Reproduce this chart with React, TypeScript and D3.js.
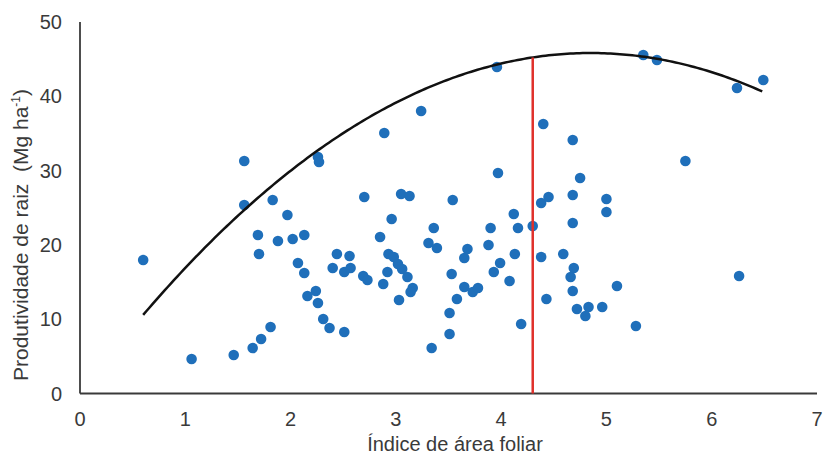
import React from "react";
import * as d3 from "d3";

const xTicks = [0, 1, 2, 3, 4, 5, 6, 7];
const yTicks = [0, 10, 20, 30, 40, 50];

const iafValues = [
  0.6, 1.06, 1.46, 1.64, 1.72, 1.81, 1.56, 2.26, 2.27, 1.56, 1.83, 1.97, 1.69, 1.88, 2.02, 2.13,
  1.7, 2.07, 2.13, 2.24, 2.16, 2.26, 2.31, 2.37, 2.51, 2.44, 2.56, 2.4, 2.51, 2.57, 2.69, 2.73,
  2.85, 2.96, 2.93, 2.98, 3.02, 3.06, 3.11, 2.92, 2.88, 3.03, 3.16, 3.14, 2.89, 3.24, 2.7, 3.05,
  3.13, 3.54, 3.36, 3.31, 3.39, 3.53, 3.51, 3.51, 3.34, 3.58, 3.65, 3.73, 3.78, 3.65, 3.68, 3.9,
  3.88, 3.99, 3.93, 4.08, 4.13, 4.16, 4.3, 4.19, 4.38, 4.43, 3.96, 4.4, 3.97, 4.12, 4.38, 4.45,
  4.68, 4.75, 4.68, 4.68, 5.0, 5.0, 4.59, 4.69, 4.66, 4.68, 5.1, 4.72, 4.83, 4.96, 4.8, 5.28,
  5.75, 5.35, 5.48, 6.24, 6.49, 6.26,
];
const raizValues = [
  17.97, 4.64, 5.18, 6.12, 7.34, 8.95, 31.29, 31.83, 31.16, 25.37, 26.04, 24.02, 21.33, 20.52, 20.79, 21.33,
  18.78, 17.56, 16.22, 13.8, 13.12, 12.18, 10.03, 8.82, 8.28, 18.78, 18.51, 16.89, 16.35, 16.89, 15.81, 15.28,
  21.06, 23.49, 18.78, 18.37, 17.43, 16.76, 15.68, 16.35, 14.74, 12.58, 14.2, 13.66, 35.06, 38.02, 26.45, 26.85,
  26.58, 26.04, 22.27, 20.26, 19.58, 16.08, 10.83, 8.01, 6.12, 12.72, 14.33, 13.66, 14.2, 18.24, 19.45, 22.27,
  19.99, 17.56, 16.35, 15.14, 18.78, 22.27, 22.54, 9.35, 18.37, 12.72, 43.94, 36.27, 29.68, 24.16, 25.64, 26.45,
  34.12, 29.0, 26.72, 22.95, 26.18, 24.43, 18.78, 16.89, 15.68, 13.8, 14.47, 11.37, 11.64, 11.64, 10.43, 9.08,
  31.29, 45.56, 44.89, 41.12, 42.19, 15.81,
];

// quadratic trend: y = a*x^2 + b*x + c
const trendCoefs = [-1.95, 18.92, -0.07];
const trendRange = [0.6, 6.48];
const optimumIaf = [4.3];

const W = 823;
const H = 458;
const FONT = "'Liberation Sans', Arial, sans-serif";
const TEXT = "#3a3a3a";

export default function App() {
  const x = d3.scaleLinear().domain([0, 7]).range([80, 817]);
  const y = d3.scaleLinear().domain([0, 50]).range([393.5, 22]);
  const f = (v: number) => trendCoefs[0] * v * v + trendCoefs[1] * v + trendCoefs[2];
  const curvePts = d3.range(0, 201).map((i) => {
    const v = trendRange[0] + ((trendRange[1] - trendRange[0]) * i) / 200;
    return [v, f(v)] as [number, number];
  });
  const line = d3
    .line<[number, number]>()
    .x((d) => x(d[0]))
    .y((d) => y(d[1]));
  const pts = iafValues.map((v, i) => [v, raizValues[i]]);

  return (
    <svg
      width={W}
      height={H}
      style={{ position: "absolute", left: 0, top: 0, display: "block", background: "#fff" }}
      fontFamily={FONT}
    >
      <rect x={0} y={0} width={W} height={H} fill="#fff" />
      {/* axes */}
      <line x1={x(0)} x2={x(0)} y1={y(0)} y2={y(50)} stroke="#3a3a3a" strokeWidth={1.8} />
      <line x1={x(0)} x2={x(7)} y1={y(0)} y2={y(0)} stroke="#3a3a3a" strokeWidth={1.8} />
      {yTicks.map((t) => (
        <text key={"y" + t} x={62} y={y(t)} dy="0.35em" textAnchor="end" fontSize={20} fill={TEXT}>
          {t}
        </text>
      ))}
      {xTicks.map((t) => (
        <text key={"x" + t} x={x(t)} y={426} textAnchor="middle" fontSize={20} fill={TEXT}>
          {t}
        </text>
      ))}
      <text x={455} y={451} textAnchor="middle" fontSize={20} fill={TEXT}>
        Índice de área foliar
      </text>
      <text
        transform={`translate(28, 235) rotate(-90)`}
        textAnchor="middle"
        fontSize={21}
        fill={TEXT}
        style={{ whiteSpace: "pre" }}
      >
        <tspan>{"Produtividade de raiz  (Mg ha"}</tspan>
        <tspan fontSize={12} dy={-8}>-1</tspan>
        <tspan dy={8}>)</tspan>
      </text>
      {/* points */}
      {pts.map((p, i) => (
        <circle key={i} cx={x(p[0])} cy={y(p[1])} r={5.3} fill="#1f6fba" />
      ))}
      {/* trend */}
      <path d={line(curvePts) || ""} fill="none" stroke="#111" strokeWidth={2.5} />
      {optimumIaf.map((v) => (
        <line key={v} x1={x(v)} x2={x(v)} y1={y(0)} y2={y(f(v))} stroke="#e0312b" strokeWidth={2.5} />
      ))}
    </svg>
  );
}
